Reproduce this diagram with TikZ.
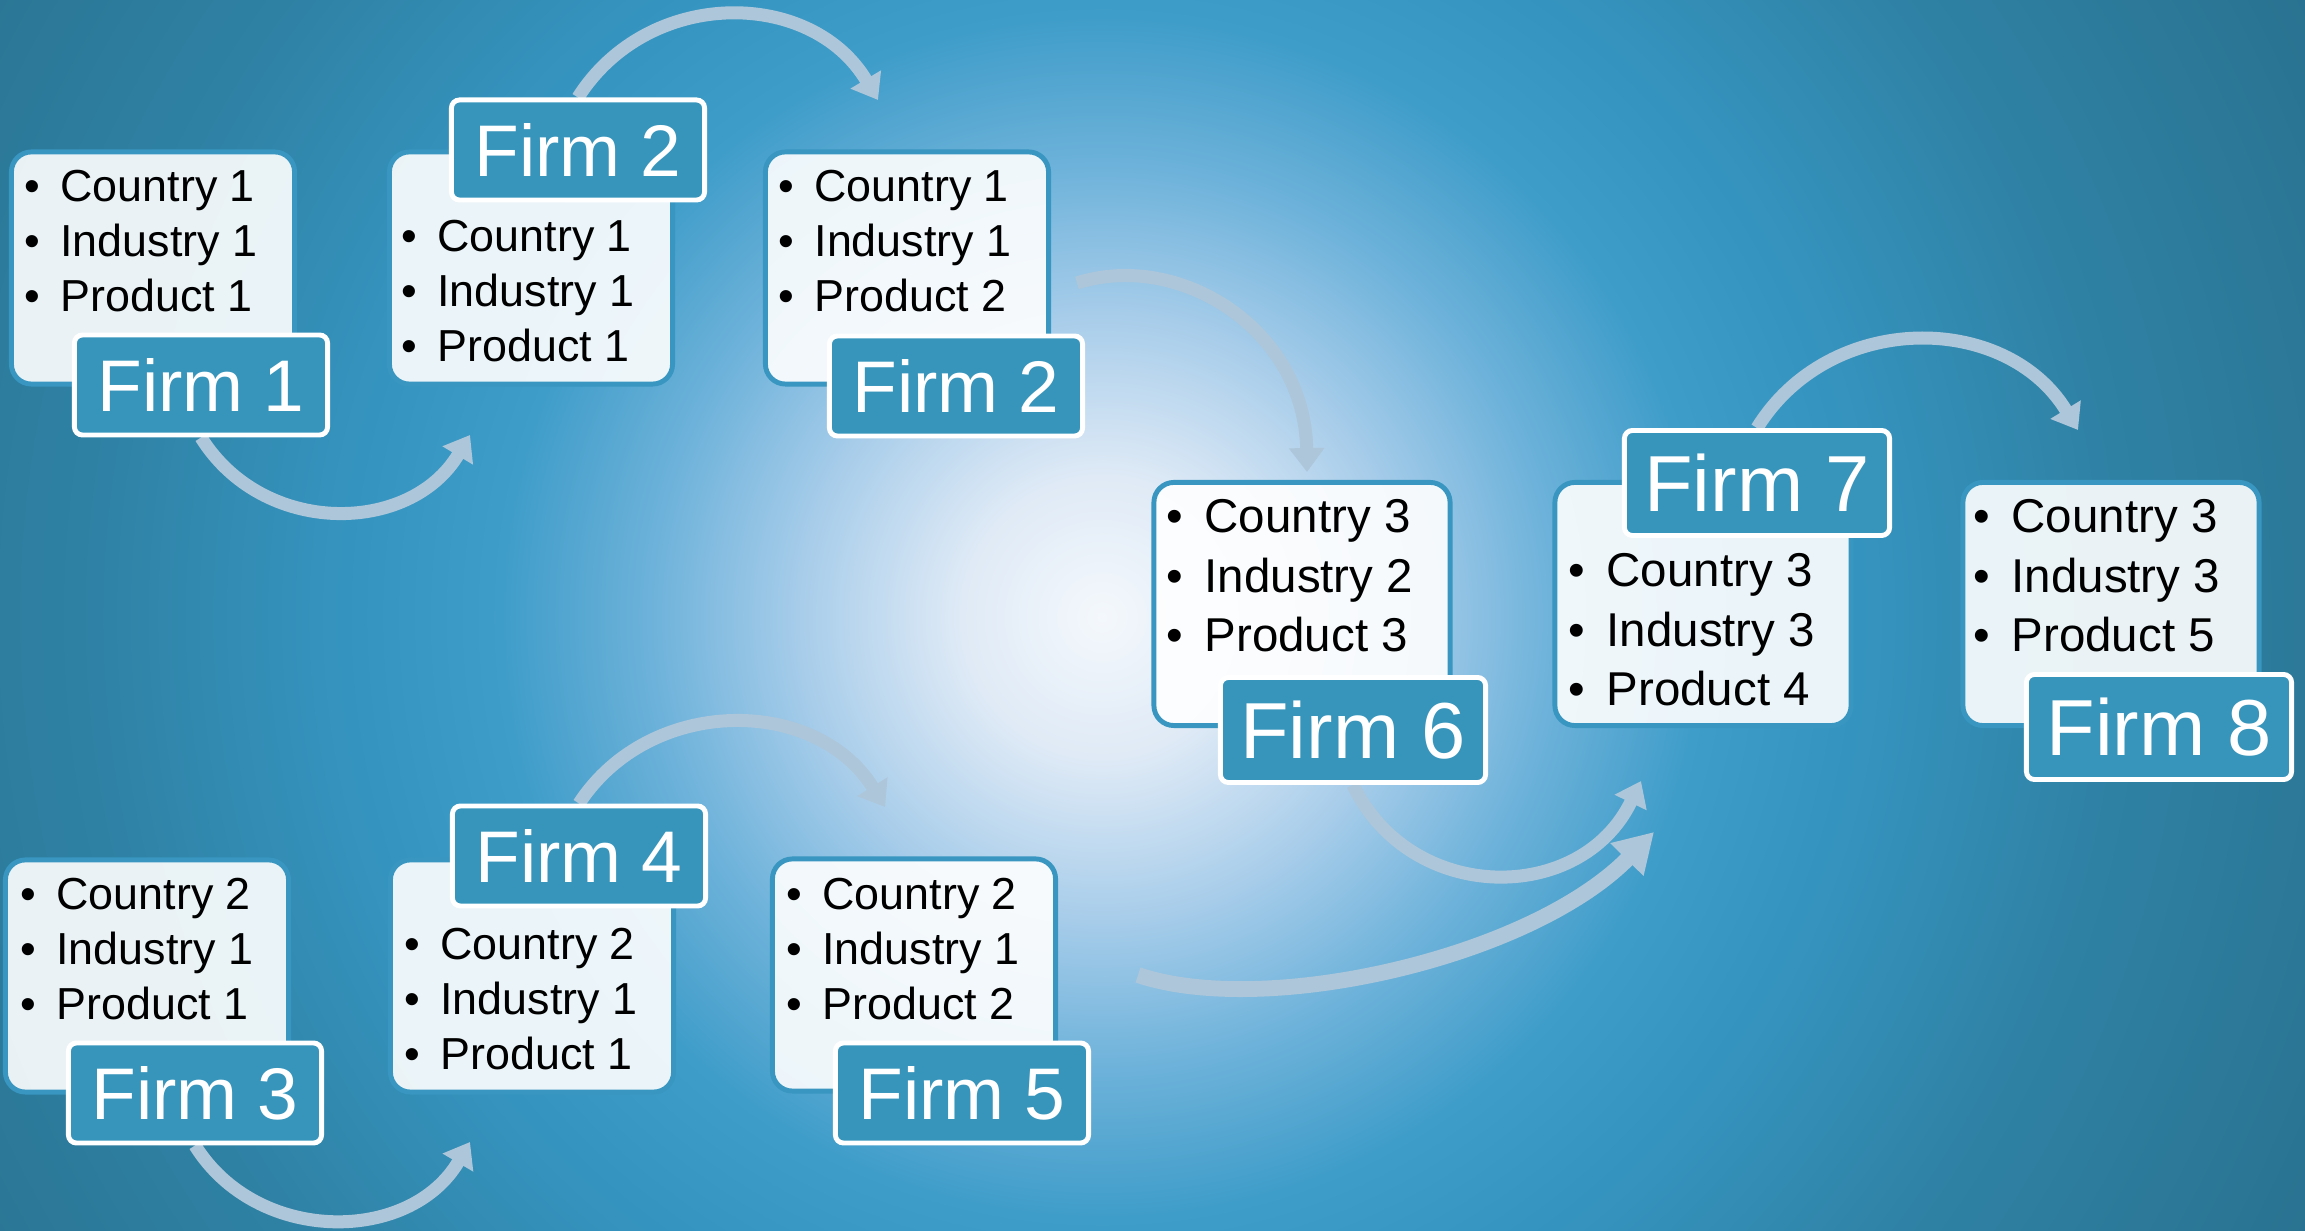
\documentclass[tikz,border=0pt]{standalone}
\usepackage{fontspec}
\setmainfont{Liberation Sans}
\usetikzlibrary{arrows.meta}

\pgfdeclarelayer{back}
\pgfdeclarelayer{mid}
\pgfsetlayers{back,mid,main}

\definecolor{glow0}{RGB}{244,248,252}
\definecolor{glow1}{RGB}{223,234,246}
\definecolor{glow2}{RGB}{168,205,234}
\definecolor{glow3}{RGB}{109,178,218}
\definecolor{glow4}{RGB}{63,157,201}
\definecolor{glow5}{RGB}{53,148,191}
\definecolor{glow6}{RGB}{47,130,165}
\definecolor{glow7}{RGB}{41,113,143}
\pgfdeclareradialshading{glow}{\pgfpoint{0bp}{0bp}}{color(0bp)=(glow0); color(40bp)=(glow1); color(85bp)=(glow2); color(128bp)=(glow3); color(170bp)=(glow4); color(215bp)=(glow5); color(285bp)=(glow6); color(390bp)=(glow7)}

\definecolor{tagblue}{RGB}{55,149,188}
\definecolor{edgeblue}{RGB}{56,150,192}
\definecolor{arrowgray}{RGB}{173,198,217}

\newcommand{\firmlist}[3]{\begin{tabular}[t]{@{}l@{\hspace{0.45em}}l@{}}\textbullet & #1\\ \textbullet & #2\\ \textbullet & #3\end{tabular}}

\begin{document}
\begin{tikzpicture}[x=0.01cm,y=-0.01cm]
					\tikzstyle{card}=[rectangle,rounded corners=0.2cm,draw=edgeblue,line width=1.4pt,fill=white,fill opacity=0.9,minimum width=2.83cm,minimum height=2.32cm,inner sep=0pt]
					\tikzstyle{bigcard}=[card,minimum width=2.96cm,minimum height=2.43cm]
					\tikzstyle{tag}=[rectangle,rounded corners=0.08cm,draw=white,line width=1.4pt,fill=tagblue,text=white,minimum width=2.53cm,minimum height=1.0cm,inner sep=0pt,font=\fontsize{20.8pt}{24pt}\selectfont]
					\tikzstyle{bigtag}=[tag,minimum width=2.65cm,minimum height=1.05cm,font=\fontsize{22.6pt}{26pt}\selectfont]
					\tikzstyle{items}=[anchor=base west,inner sep=0pt,font=\fontsize{12.75pt}{15.6pt}\selectfont]
					\tikzstyle{bigitems}=[items,font=\fontsize{13.5pt}{16.8pt}\selectfont]
					\tikzstyle{flow}=[draw=arrowgray,line width=3.7pt,-{Triangle[length=6.8pt,width=9.7pt]}]
					\tikzstyle{bigflow}=[flow,line width=4.5pt,-{Triangle[length=11pt,width=12.5pt]}]
					\useasboundingbox (0,0) rectangle (2305,1231);
					\begin{pgfonlayer}{back}
					\begin{scope}
					\clip (0,0) rectangle (2305,1231);
					\node[inner sep=0pt] (glow) at (1102,617) {\pgfuseshading{glow}};
					\end{scope}
					\end{pgfonlayer}
					% top row
					\node[card] (c1) at (153,268) {};
					\node[items] (t1) at (24,202) {\firmlist{Country 1}{Industry 1}{Product 1}};
					\node[tag] (f1) at (201,385) {Firm 1};
					\node[card] (c2) at (531,268) {};
					\node[items] (t2) at (401,252) {\firmlist{Country 1}{Industry 1}{Product 1}};
					\node[tag] (f2) at (578,150) {Firm 2};
					\node[card] (c2b) at (907,268) {};
					\node[items] (t2b) at (778,202) {\firmlist{Country 1}{Industry 1}{Product 2}};
					\node[tag] (f2b) at (956,386) {Firm 2};
					\node[bigcard] (c6) at (1302,604) {};
					\node[bigitems] (t6) at (1166,533) {\firmlist{Country 3}{Industry 2}{Product 3}};
					\node[bigtag] (f6) at (1353,730) {Firm 6};
					\node[bigcard] (c7) at (1703,604) {};
					\node[bigitems] (t7) at (1568,587) {\firmlist{Country 3}{Industry 3}{Product 4}};
					\node[bigtag] (f7) at (1757,483) {Firm 7};
					\node[bigcard] (c8) at (2111,604) {};
					\node[bigitems] (t8) at (1973,533) {\firmlist{Country 3}{Industry 3}{Product 5}};
					\node[bigtag] (f8) at (2159,727) {Firm 8};
					% bottom row
					\node[card] (c3) at (147,976) {};
					\node[items] (t3) at (20,910) {\firmlist{Country 2}{Industry 1}{Product 1}};
					\node[tag] (f3) at (195,1093) {Firm 3};
					\node[card] (c4) at (532,976) {};
					\node[items] (t4) at (404,960) {\firmlist{Country 2}{Industry 1}{Product 1}};
					\node[tag] (f4) at (579,856) {Firm 4};
					\node[card] (c5) at (914,975) {};
					\node[items] (t5) at (786,910) {\firmlist{Country 2}{Industry 1}{Product 2}};
					\node[tag] (f5) at (962,1093) {Firm 5};
					% arrow ends
					\coordinate (a1) at (470,435);
					\coordinate (a2) at (878,100);
					\coordinate (s2b) at (1077,283);
					\coordinate (a2b) at (1307,472);
					\coordinate (a6) at (1641,781);
					\coordinate (s5) at (1138,975);
					\coordinate (a5) at (1654,832);
					\coordinate (a7) at (2078,430);
					\coordinate (a3) at (470,1142);
					\coordinate (a4) at (885,807);
					\begin{pgfonlayer}{mid}
					\draw[flow] (f1.south) .. controls (263,537) and (410,535) .. (a1);
					\draw[flow] (f2.north) .. controls (648,-13) and (811,-12) .. (a2);
					\draw[flow] (s2b) .. controls (1180,250) and (1305,330) .. (a2b);
					\draw[flow] (f6.south) .. controls (1411,905) and (1581,905) .. (a6);
					\draw[bigflow] (s5) .. controls (1265,1018) and (1530,958) .. (a5);
					\draw[flow] (f7.north) .. controls (1830,310) and (2006,312) .. (a7);
					\draw[flow] (f3.south) .. controls (257,1245) and (410,1244) .. (a3);
					\draw[flow] (f4.north) .. controls (650,695) and (816,696) .. (a4);
					\end{pgfonlayer}
					\end{tikzpicture}
\end{document}
